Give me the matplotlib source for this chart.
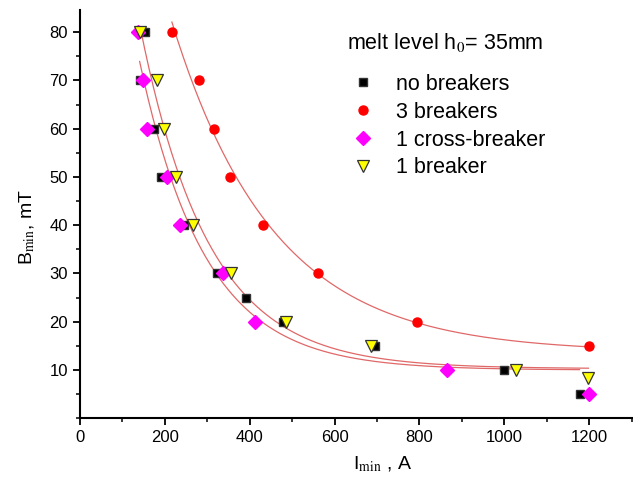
import numpy as np
import matplotlib.pyplot as plt
from matplotlib.ticker import MultipleLocator

plt.rcParams['font.family'] = ['Liberation Sans', 'DejaVu Sans']
plt.rcParams['mathtext.fontset'] = 'stix'

# no breakers
i_none = [153, 141, 174, 192, 245, 324, 392, 479, 695, 1000, 1177]
b_none = [80, 70, 60, 50, 40, 30, 25, 20, 15, 10, 5]
# 3 breakers
i_three = [217, 281, 317, 355, 431, 561, 794, 1200]
b_three = [80, 70, 60, 50, 40, 30, 20, 15]
# 1 cross-breaker
i_cross = [136, 149, 158, 206, 235, 337, 413, 866, 1199]
b_cross = [80, 70, 60, 50, 40, 30, 20, 10, 5]
# 1 breaker
i_one = [142, 183, 198, 227, 266, 357, 486, 687, 1028, 1198]
b_one = [80, 70, 60, 50, 40, 30, 20, 15, 10, 8.3]


def expdec_fit(x, y):
    # y = y0 + A*exp(-x/t), grid over t, linear lsq for y0, A
    x = np.asarray(x, float)
    y = np.asarray(y, float)
    best = None
    for t in np.linspace(20, 800, 3000):
        M = np.column_stack([np.ones_like(x), np.exp(-x / t)])
        coef = np.linalg.lstsq(M, y, rcond=None)[0]
        sse = np.sum((M @ coef - y) ** 2)
        if best is None or sse < best[0]:
            best = (sse, coef[0], coef[1], t)
    return best[1:]


def fit_line(ax, x, y):
    y0, A, t = expdec_fit(x, y)
    xx = np.linspace(min(x), max(x), 300)
    ax.plot(xx, y0 + A * np.exp(-xx / t), color='#e06868', lw=0.9, zorder=1)


fig = plt.figure(figsize=(6.33, 4.79), dpi=100)
ax = fig.add_axes([0.126, 0.127, 0.872, 0.852])

fit_line(ax, i_none, b_none)
fit_line(ax, i_three, b_three)
fit_line(ax, i_one, b_one)

ax.plot(i_none, b_none, 's', color='black', ms=5.5, mec='#333333', label='no breakers', zorder=3)
ax.plot(i_three, b_three, 'o', color='red', ms=6.5, mec='red', label='3 breakers', zorder=3)
ax.plot(i_cross, b_cross, 'D', color='magenta', ms=7, mec='magenta', label='1 cross-breaker', zorder=4)
ax.plot(i_one, b_one, 'v', color='yellow', ms=9, mec='#333333', mew=0.9, label='1 breaker', zorder=5)

ax.set_xlim(0, 1300)
ax.set_ylim(0, 84.6)
ax.xaxis.set_major_locator(MultipleLocator(200))
ax.xaxis.set_minor_locator(MultipleLocator(100))
ax.set_yticks(range(10, 81, 10))
ax.yaxis.set_minor_locator(MultipleLocator(5))
ax.tick_params(which='major', direction='out', length=5, width=1.3, labelsize=12)
ax.tick_params(which='minor', direction='out', length=3, width=1.1)
for s in ['top', 'right']:
    ax.spines[s].set_visible(False)
for s in ['left', 'bottom']:
    ax.spines[s].set_linewidth(1.5)

ax.set_xlabel('I$_{\\mathrm{min}}$ , A', fontsize=14)
ax.xaxis.set_label_coords(0.549, -0.09)
ax.set_ylabel('B$_{\\mathrm{min}}$, mT', fontsize=14)
ax.yaxis.set_label_coords(-0.077, 0.469)

ax.text(0.484, 0.92, 'melt level h$_{\\mathrm{0}}$= 35mm', transform=ax.transAxes,
        fontsize=15.5, ha='left', va='center')
leg = ax.legend(loc='upper left', bbox_to_anchor=(0.4895, 0.844), frameon=False,
                fontsize=15.5, borderpad=0, borderaxespad=0,
                handletextpad=0.94, labelspacing=0.32, handlelength=1.2)

fig.savefig('out.png', dpi=100)
